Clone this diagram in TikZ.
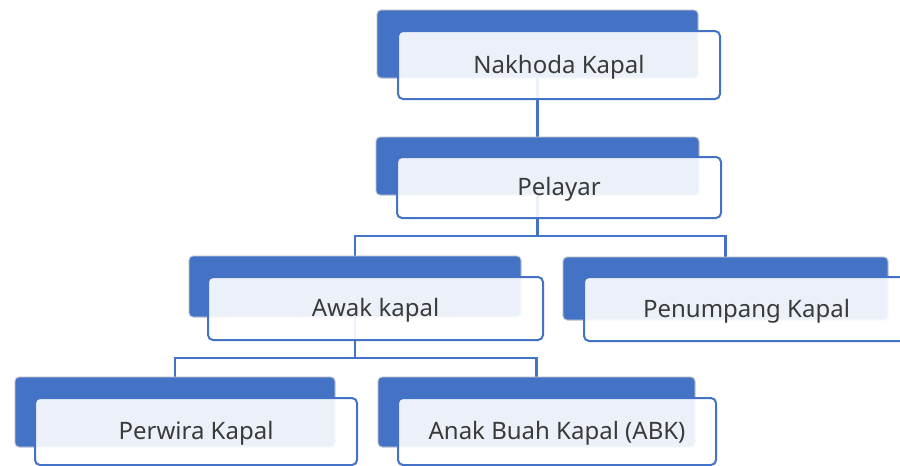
\documentclass[tikz,border=0pt]{standalone}
\usepackage{fontspec}
\setmainfont{Noto Sans}
\definecolor{obl}{HTML}{4472C4}
\definecolor{txt}{HTML}{3A3A3A}
\tikzset{
  backbox/.style={draw=black!18, line width=0.8pt, fill=obl, rounded corners=4pt, inner sep=0pt},
  frontbox/.style={draw=obl, line width=2pt, fill=white, fill opacity=0.9, text opacity=1,
     rounded corners=5pt, inner sep=0pt, text=txt, font=\fontsize{24}{28}\selectfont,
     text height=22pt, text depth=6pt},
  conn/.style={draw=obl, line width=2.2pt}
}
\begin{document}
\begin{tikzpicture}[x=1pt,y=-1pt]
\useasboundingbox (0,0) rectangle (900,466);
\clip (0,0) rectangle (900,466);
% back boxes
\node[backbox, minimum width=321pt, minimum height=68pt] (nakB) at (537.5,44) {};
\node[backbox, minimum width=323pt, minimum height=58pt] (pelB) at (537.5,166) {};
\node[backbox, minimum width=332pt, minimum height=61pt] (awB) at (355,286.5) {};
\node[backbox, minimum width=325pt, minimum height=63pt] (penB) at (725.5,288.5) {};
\node[backbox, minimum width=320pt, minimum height=70pt] (perB) at (175,412) {};
\node[backbox, minimum width=317pt, minimum height=70pt] (abkB) at (536.5,412) {};
% connectors
\coordinate (pelJ) at (537.5,236);
\coordinate (awJ) at (355,358);
\draw[conn] (nakB.south) -- (pelB.north);
\draw[conn] (pelB.south) -- (pelJ) -| (awB.north);
\draw[conn] (pelJ) -| (penB.north);
\draw[conn] (awB.south) -- (awJ) -| (perB.north);
\draw[conn] (awJ) -| (abkB.north);
% redraw back boxes over connector ends
\node[backbox, minimum width=321pt, minimum height=68pt] at (537.5,44) {};
\node[backbox, minimum width=323pt, minimum height=58pt] at (537.5,166) {};
\node[backbox, minimum width=332pt, minimum height=61pt] at (355,286.5) {};
\node[backbox, minimum width=325pt, minimum height=63pt] at (725.5,288.5) {};
\node[backbox, minimum width=320pt, minimum height=70pt] at (175,412) {};
\node[backbox, minimum width=317pt, minimum height=70pt] at (536.5,412) {};
% front boxes
\node[frontbox, minimum width=322pt, minimum height=68pt] (nakF) at (559,65) {Nakhoda Kapal};
\node[frontbox, minimum width=324pt, minimum height=61pt] (pelF) at (559,187.5) {Pelayar};
\node[frontbox, minimum width=335pt, minimum height=63pt] (awF) at (375.5,308.5) {Awak kapal};
\node[frontbox, minimum width=325pt, minimum height=64pt] (penF) at (746.5,309) {Penumpang Kapal};
\node[frontbox, minimum width=322pt, minimum height=67pt] (perF) at (196,431.5) {Perwira Kapal};
\node[frontbox, minimum width=318pt, minimum height=67pt] (abkF) at (557,431.5) {Anak Buah Kapal (ABK)};
\end{tikzpicture}
\end{document}
